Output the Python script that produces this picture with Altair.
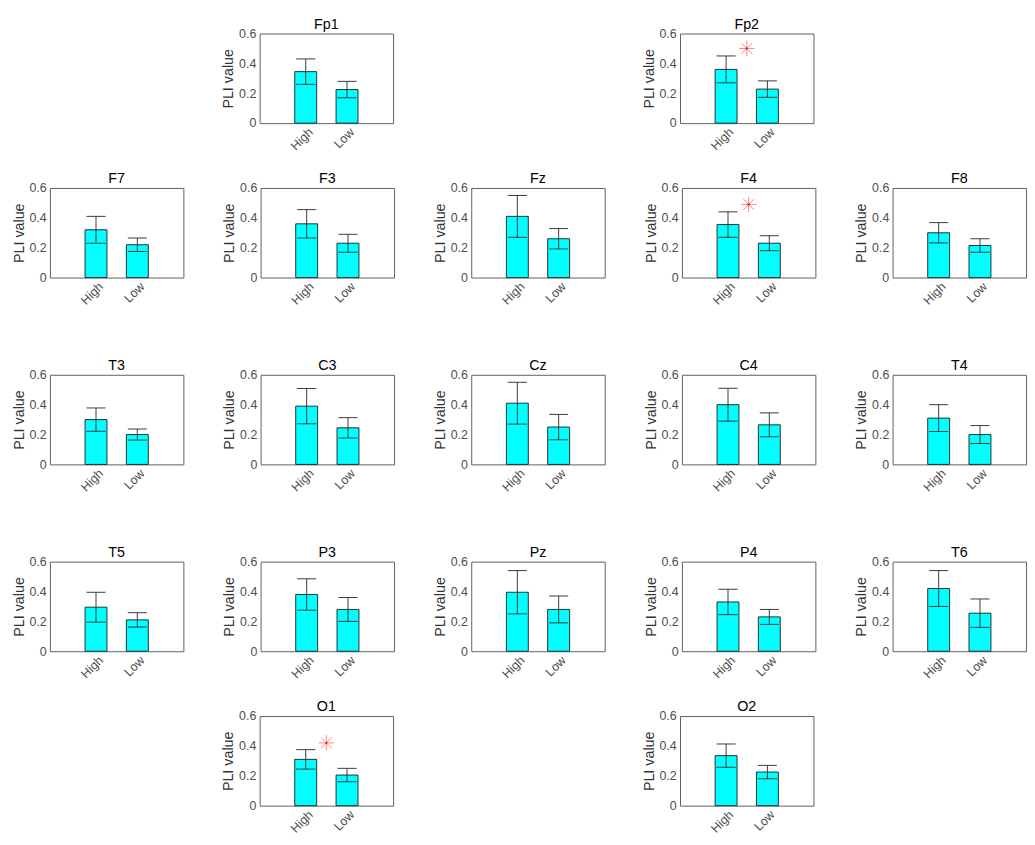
import altair as alt
import pandas as pd

# ---- data ----
electrodes = ["Fp1", "Fp2", "F7", "F3", "Fz", "F4", "F8", "T3", "C3", "Cz",
              "C4", "T4", "T5", "P3", "Pz", "P4", "T6", "O1", "O2"]
groups = ["High", "Low"]
group_pos = [1, 2]
high_mean = [0.345, 0.36, 0.32, 0.36, 0.41, 0.355, 0.30, 0.30, 0.39, 0.41,
             0.40, 0.31, 0.295, 0.38, 0.395, 0.33, 0.42, 0.31, 0.335]
high_err = [0.085, 0.09, 0.09, 0.095, 0.14, 0.085, 0.068, 0.078, 0.118, 0.14,
            0.11, 0.09, 0.10, 0.105, 0.145, 0.085, 0.12, 0.065, 0.078]
low_mean = [0.225, 0.228, 0.22, 0.23, 0.26, 0.23, 0.215, 0.20, 0.245, 0.25,
            0.265, 0.20, 0.21, 0.28, 0.28, 0.23, 0.255, 0.205, 0.225]
low_err = [0.055, 0.055, 0.045, 0.06, 0.068, 0.05, 0.045, 0.037, 0.068, 0.085,
           0.08, 0.06, 0.048, 0.08, 0.09, 0.05, 0.095, 0.045, 0.045]
star_electrodes = ["Fp2", "F4", "O1"]
star_values = [0.50, 0.49, 0.42]
star_pos = 1.5
y_ticks = [0, 0.2, 0.4, 0.6]

layout_rows = [
    [None, "Fp1", None, "Fp2"],
    ["F7", "F3", "Fz", "F4", "F8"],
    ["T3", "C3", "Cz", "C4", "T4"],
    ["T5", "P3", "Pz", "P4", "T6"],
    [None, "O1", None, "O2"],
]

FONT = "Liberation Sans"
W, H = 140, 94
label_expr = f"datum.value == {group_pos[0]} ? '{groups[0]}' : '{groups[1]}'"
STAR_PATH = "M-1,0L1,0M0,-1L0,1M-0.7,-0.7L0.7,0.7M-0.7,0.7L0.7,-0.7"


def panel(name, hidden=False):
    i = electrodes.index(name)
    df = pd.DataFrame({
        "group": groups,
        "pos": group_pos,
        "mean": [high_mean[i], low_mean[i]],
        "err": [high_err[i], low_err[i]],
    })
    df["lo"] = df["mean"] - df["err"]
    df["hi"] = df["mean"] + df["err"]
    op = 0 if hidden else 1

    xaxis_kw = dict(values=group_pos, labelExpr=label_expr, title=None,
                    labelAngle=-45, labelAlign="right", labelBaseline="middle",
                    labelOverlap=False, labelPadding=7, labelOffset=5)
    yaxis_kw = dict(values=y_ticks, format="~g", title="PLI value",
                    labelOverlap=False, tickCount=4)
    if hidden:
        xaxis_kw["labelColor"] = "transparent"
        yaxis_kw["labelColor"] = "transparent"
        yaxis_kw["titleColor"] = "transparent"
    xax = alt.Axis(**xaxis_kw)
    yax = alt.Axis(**yaxis_kw)
    xscale = alt.Scale(domain=[0, 3])
    yscale = alt.Scale(domain=[0, 0.6])

    def X():
        return alt.X("pos:Q", scale=xscale, axis=xax)

    def Y(f):
        return alt.Y(f"{f}:Q", scale=yscale, axis=yax)

    base = alt.Chart(df)
    bars = base.mark_bar(size=23, color="#00FFFF", stroke="#1e2b2b", strokeWidth=1,
                         orient="vertical", opacity=op).encode(x=X(), y=Y("mean"))
    rule = base.mark_rule(color="#333333", strokeWidth=1, opacity=op).encode(
        x=X(), y=Y("lo"), y2="hi:Q")
    cap_hi = base.mark_tick(orient="horizontal", size=20, thickness=1,
                            color="#333333", opacity=op).encode(x=X(), y=Y("hi"))
    cap_lo = base.mark_tick(orient="horizontal", size=20, thickness=1,
                            color="#333333", opacity=op).encode(x=X(), y=Y("lo"))
    layers = [bars, rule, cap_hi, cap_lo]
    if name in star_electrodes and not hidden:
        sdf = pd.DataFrame({"pos": [star_pos],
                            "v": [star_values[star_electrodes.index(name)]]})
        star = alt.Chart(sdf).mark_point(shape=STAR_PATH, filled=False,
                                         stroke="#ff5050", strokeWidth=1,
                                         size=260).encode(x=X(), y=Y("v"))
        dot = alt.Chart(sdf).mark_point(shape="circle", filled=True,
                                        color="#e00000", size=6).encode(
            x=X(), y=Y("v"))
        layers += [star, dot]
    title = alt.TitleParams(text=name, fontSize=15, font=FONT,
                            color="transparent" if hidden else "black",
                            fontWeight="normal", offset=-4)
    ch = alt.layer(*layers).properties(width=W, height=H, title=title)
    if hidden:
        ch = ch.properties(view=alt.ViewBackground(strokeOpacity=0))
    return ch


def row(names):
    cells = [panel(n) if n else panel("Fp1", hidden=True) for n in names]
    return alt.hconcat(*cells, spacing=39)


r = [row(n) for n in layout_rows]
group_a = alt.vconcat(r[0], r[1], spacing=18)
group_c = alt.vconcat(r[3], r[4], spacing=18)

chart = alt.vconcat(group_a, r[2], group_c, spacing=52).properties(
    padding={"left": 3, "top": -12, "right": 0, "bottom": 0}
).configure_view(
    stroke="#5a5a5a", strokeWidth=1
).configure_axis(
    grid=False, ticks=False, domain=False,
    labelFont=FONT, labelFontSize=13, labelColor="#4d4d4d",
    titleFont=FONT, titleFontSize=15, titleColor="#333333",
    labelPadding=4, titlePadding=3, titleFontWeight="normal"
)

chart.save("out.html", embed_options={"renderer": "svg", "actions": False})
